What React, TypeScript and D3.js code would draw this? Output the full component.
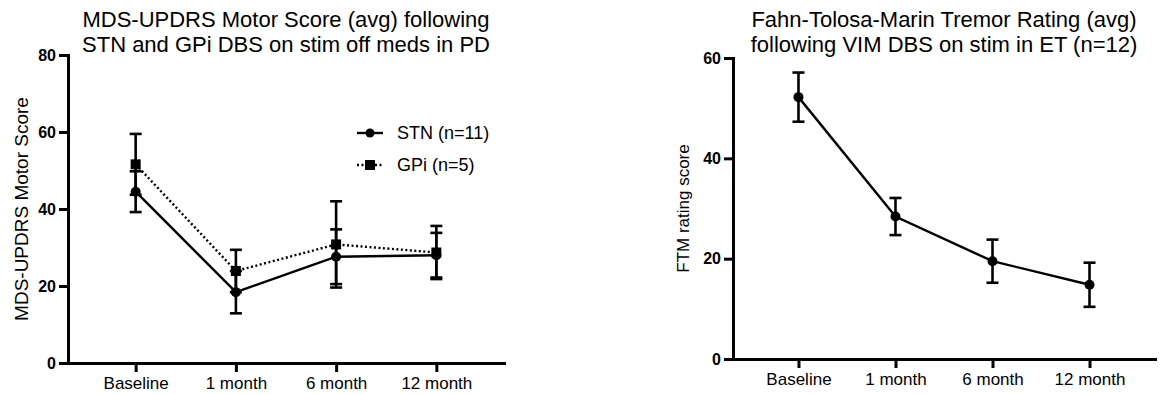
import { useEffect, useRef } from 'react';
import * as d3 from 'd3';

const TIMEPOINTS = ['Baseline', '1 month', '6 month', '12 month'];

// Left panel: MDS-UPDRS, PD
const STN_MEAN = [44.5, 18.4, 27.6, 28.0];
const STN_ERR = [5.3, 5.5, 7.1, 5.8];
const GPI_MEAN = [51.6, 23.9, 30.8, 28.7];
const GPI_ERR = [7.9, 5.5, 11.2, 6.9];
const LEFT_Y_TICKS = [0, 20, 40, 60, 80];

// Right panel: FTM, ET
const VIM_MEAN = [52.2, 28.4, 19.5, 14.8];
const VIM_ERR = [4.9, 3.7, 4.3, 4.4];
const RIGHT_Y_TICKS = [0, 20, 40, 60];

const FONT = '"Liberation Sans", Arial, Helvetica, sans-serif';

type Series = {
  name: string;
  mean: number[];
  err: number[];
  marker: 'circle' | 'square';
  dash: string | null;
};

type Panel = {
  xRange: [number, number];
  yRange: [number, number];
  yMax: number;
  yTicks: number[];
  title: string[];
  yLabel: string;
  yLabelX: number;
  yLabelSize: number;
  series: Series[];
  legend?: { x: number; y: number };
};

function drawPanel(svg: d3.Selection<SVGSVGElement, unknown, null, undefined>, p: Panel) {
  const g = svg.append('g');
  const x = d3.scalePoint<string>().domain(TIMEPOINTS).range(p.xRange).padding(0.675);
  const y = d3.scaleLinear().domain([0, p.yMax]).range(p.yRange);

  // x axis
  const xa = g.append('g')
    .attr('transform', `translate(0,${y(0)})`)
    .call(d3.axisBottom(x).tickSize(9).tickSizeOuter(0).tickPadding(5));
  xa.select('.domain').attr('stroke-width', 3).attr('stroke-linecap', 'square');
  xa.selectAll('.tick line').attr('stroke-width', 3);
  xa.selectAll('.tick text')
    .style('font-family', FONT).style('font-size', '17px').attr('fill', '#000');

  // y axis
  const ya = g.append('g')
    .attr('transform', `translate(${p.xRange[0]},0)`)
    .call(d3.axisLeft(y).tickValues(p.yTicks).tickSize(9).tickSizeOuter(0).tickPadding(3).tickFormat(d3.format('d')));
  ya.select('.domain').attr('stroke-width', 3).attr('stroke-linecap', 'square');
  ya.selectAll('.tick line').attr('stroke-width', 3);
  ya.selectAll('.tick text')
    .style('font-family', FONT).style('font-size', '16px').style('font-weight', 700).attr('fill', '#000');

  // y label
  g.append('text')
    .attr('transform', `translate(${p.yLabelX},${(p.yRange[0] + p.yRange[1]) / 2}) rotate(-90)`)
    .attr('text-anchor', 'middle').attr('dy', '0.35em')
    .style('font-family', FONT).style('font-size', `${p.yLabelSize}px`)
    .text(p.yLabel);

  // title
  const cx = (p.xRange[0] + p.xRange[1]) / 2;
  p.title.forEach((t, i) => {
    g.append('text')
      .attr('x', cx).attr('y', 27 + i * 25)
      .attr('text-anchor', 'middle')
      .style('font-family', FONT).style('font-size', '22px')
      .text(t);
  });

  const line = d3.line<number>().x((_, i) => x(TIMEPOINTS[i])!).y((d) => y(d));

  // draw in reverse so first series sits on top
  [...p.series].reverse().forEach((s) => {
    const sg = g.append('g');
    sg.append('path')
      .attr('d', line(s.mean))
      .attr('fill', 'none').attr('stroke', '#000').attr('stroke-width', 2.4)
      .attr('stroke-dasharray', s.dash);

    s.mean.forEach((m, i) => {
      const px = x(TIMEPOINTS[i])!;
      const lo = y(m - s.err[i]);
      const hi = y(m + s.err[i]);
      sg.append('line').attr('x1', px).attr('x2', px).attr('y1', lo).attr('y2', hi)
        .attr('stroke', '#000').attr('stroke-width', 2.6);
      [lo, hi].forEach((yy) => {
        sg.append('line').attr('x1', px - 6).attr('x2', px + 6).attr('y1', yy).attr('y2', yy)
          .attr('stroke', '#000').attr('stroke-width', 2.6);
      });
      if (s.marker === 'circle') {
        sg.append('circle').attr('cx', px).attr('cy', y(m)).attr('r', 5).attr('fill', '#000');
      } else {
        sg.append('rect').attr('x', px - 5).attr('y', y(m) - 5).attr('width', 10).attr('height', 10).attr('fill', '#000');
      }
    });
  });

  if (p.legend) {
    const { x: lx, y: ly } = p.legend;
    p.series.forEach((s, i) => {
      const yy = ly + i * 32;
      g.append('line').attr('x1', lx).attr('x2', lx + 26).attr('y1', yy).attr('y2', yy)
        .attr('stroke', '#000').attr('stroke-width', 2.4).attr('stroke-dasharray', s.dash);
      if (s.marker === 'circle') {
        g.append('circle').attr('cx', lx + 13).attr('cy', yy).attr('r', 4.5).attr('fill', '#000');
      } else {
        g.append('rect').attr('x', lx + 8).attr('y', yy - 5).attr('width', 10).attr('height', 10).attr('fill', '#000');
      }
      g.append('text')
        .attr('x', lx + 40).attr('y', yy).attr('dy', '0.35em')
        .style('font-family', FONT).style('font-size', '18px')
        .text(s.name);
    });
  }
}

export default function App() {
  const ref = useRef<SVGSVGElement>(null);

  useEffect(() => {
    if (!ref.current) return;
    const svg = d3.select(ref.current);
    svg.selectAll('*').remove();

    drawPanel(svg, {
      xRange: [68, 504],
      yRange: [363, 55],
      yMax: 80,
      yTicks: LEFT_Y_TICKS,
      title: ['MDS-UPDRS Motor Score (avg) following', 'STN and GPi DBS on stim off meds in PD'],
      yLabel: 'MDS-UPDRS Motor Score',
      yLabelX: 21,
      yLabelSize: 19,
      series: [
        { name: 'STN (n=11)', mean: STN_MEAN, err: STN_ERR, marker: 'circle', dash: null },
        { name: 'GPi (n=5)', mean: GPI_MEAN, err: GPI_ERR, marker: 'square', dash: '2,2.5' },
      ],
      legend: { x: 357, y: 133 },
    });

    drawPanel(svg, {
      xRange: [733, 1155],
      yRange: [359, 58],
      yMax: 60,
      yTicks: RIGHT_Y_TICKS,
      title: ['Fahn-Tolosa-Marin Tremor Rating (avg)', 'following VIM DBS on stim in ET (n=12)'],
      yLabel: 'FTM rating score',
      yLabelX: 683,
      yLabelSize: 17,
      series: [
        { name: 'VIM (n=12)', mean: VIM_MEAN, err: VIM_ERR, marker: 'circle', dash: null },
      ],
    });
  }, []);

  return (
    <svg
      ref={ref}
      width={1160}
      height={394}
      style={{ position: 'absolute', left: 0, top: 0, background: '#fff' }}
    />
  );
}
